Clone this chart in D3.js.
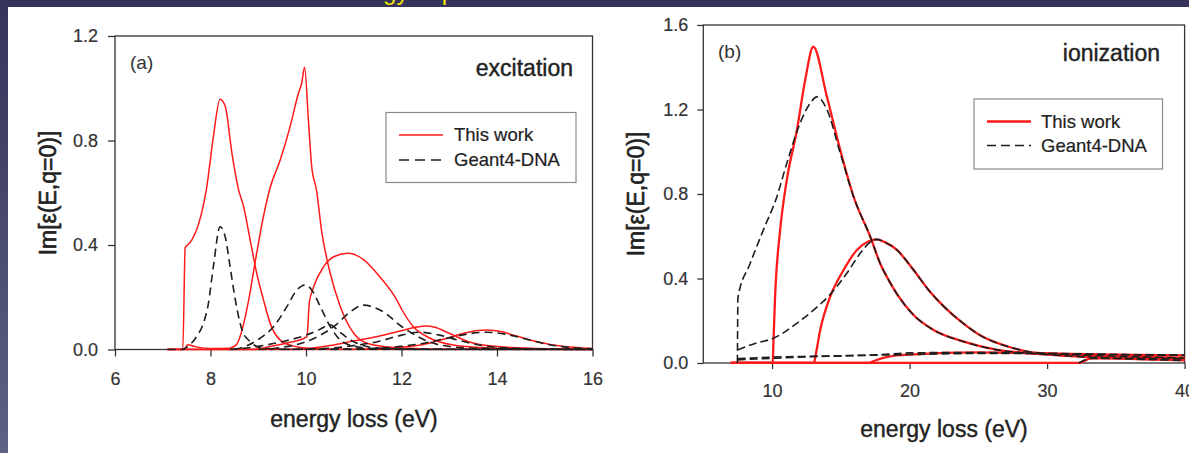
<!DOCTYPE html>
<html><head><meta charset="utf-8">
<script src="https://cdn.jsdelivr.net/npm/d3@7"></script>
<style>
html,body{margin:0;padding:0;background:#fff;overflow:hidden}
svg{display:block;font-family:"Liberation Sans",Arial,Helvetica,sans-serif}
</style></head><body>
<svg id="chart" width="1189" height="453"></svg>
<script>
// ---------- Panel (a): excitation ----------
const excXTicks = [6, 8, 10, 12, 14, 16];
const excYTicks = [0, 0.4, 0.8, 1.2];
// This work (red solid) — [energy (eV), Im eps]
const excThisWork1 = [[7.1,0],[7.42,0],[7.47,0.39],[7.52,0.40],[7.61,0.42],[7.75,0.48],[7.92,0.62],[8.06,0.815],[8.2,0.958],[8.31,0.93],[8.45,0.75],[8.59,0.61],[8.69,0.55],[8.83,0.42],[8.97,0.29],[9.11,0.19],[9.25,0.10],[9.46,0.036],[9.74,0.013],[10.02,0.005],[10.5,0.001],[16,0]];
const excThisWork2 = [[7.1,0],[7.45,0],[7.52,0.018],[7.7,0.01],[8.0,0.004],[8.4,0.005],[8.55,0.02],[8.62,0.05],[8.8,0.19],[8.94,0.34],[9.11,0.51],[9.25,0.62],[9.46,0.725],[9.67,0.855],[9.84,0.98],[9.91,1.02],[9.97,1.08],[10.05,0.88],[10.12,0.70],[10.22,0.61],[10.33,0.45],[10.51,0.29],[10.72,0.164],[11.0,0.062],[11.28,0.024],[11.83,0.008],[13,0.001],[16,0]];
const excThisWork3 = [[7.1,0],[8.9,0],[9.2,0.01],[9.6,0.025],[9.98,0.045],[10.02,0.05],[10.07,0.18],[10.16,0.24],[10.37,0.317],[10.58,0.355],[10.89,0.368],[11.21,0.343],[11.56,0.275],[11.9,0.19],[12.0,0.155],[12.25,0.087],[12.6,0.043],[13.09,0.017],[13.65,0.008],[15,0.001],[16,0]];
const excThisWork4 = [[7.1,0],[9.8,0],[10.1,0.005],[10.5,0.015],[11,0.033],[11.5,0.05],[12,0.072],[12.3,0.085],[12.5,0.09],[12.7,0.085],[13,0.062],[13.4,0.03],[13.9,0.013],[14.7,0.005],[16,0.001]];
const excThisWork5 = [[7.1,0],[11.0,0],[11.6,0.005],[12.2,0.012],[12.6,0.025],[12.95,0.043],[13.3,0.062],[13.6,0.073],[13.8,0.075],[14.1,0.068],[14.35,0.055],[14.84,0.03],[15.33,0.013],[16,0.004]];
// Geant4-DNA (black dashed)
const excGeant1 = [[7.1,0],[7.4,0],[7.55,0.015],[7.71,0.05],[7.85,0.1],[7.95,0.17],[8.06,0.317],[8.2,0.47],[8.31,0.43],[8.41,0.317],[8.52,0.19],[8.66,0.075],[8.83,0.03],[9.04,0.008],[9.5,0.001],[16,0]];
const excGeant2 = [[8.5,0],[8.62,0.005],[9.04,0.043],[9.32,0.087],[9.6,0.164],[9.81,0.228],[9.98,0.247],[10.12,0.228],[10.3,0.164],[10.51,0.087],[10.72,0.036],[11.0,0.013],[11.5,0.002],[16,0]];
const excGeant3 = [[8.4,0],[9.0,0.012],[9.5,0.03],[10.0,0.055],[10.3,0.078],[10.5,0.095],[10.7,0.068],[10.9,0.04],[11.2,0.015],[11.6,0.004],[12.5,0],[16,0]];
const excGeant4 = [[9.0,0],[9.5,0.008],[10.0,0.03],[10.3,0.055],[10.6,0.09],[10.9,0.14],[11.2,0.17],[11.61,0.145],[12.01,0.087],[12.41,0.043],[12.81,0.017],[13.5,0.005],[16,0]];
const excGeant5 = [[9.5,0],[10.5,0.005],[11,0.015],[11.5,0.03],[12,0.055],[12.4,0.066],[12.8,0.055],[13.2,0.035],[13.6,0.018],[14,0.008],[14.8,0.002],[16,0]];
const excGeant6 = [[10.5,0],[11.5,0.005],[12,0.012],[12.5,0.025],[13,0.045],[13.4,0.06],[13.8,0.066],[14.2,0.058],[14.6,0.04],[15,0.022],[15.4,0.01],[16,0.003]];

// ---------- Panel (b): ionization ----------
const ionXTicks = [10, 20, 30, 40];
const ionYTicks = [0, 0.4, 0.8, 1.2, 1.6];
const ionThisWork1 = [[7,0],[10.05,0],[10.1,0.1],[10.22,0.314],[10.59,0.63],[11.07,0.866],[11.8,1.10],[12.41,1.34],[13.0,1.497],[13.99,1.26],[14.96,1.008],[15.93,0.787],[17.14,0.598],[17.87,0.47],[18.5,0.39],[19.1,0.325],[20.29,0.227],[21.75,0.156],[23.94,0.101],[26.37,0.062],[28.8,0.046],[32.4,0.03],[40,0.012]];
const ionThisWork2 = [[7,0],[13.05,0],[13.15,0.03],[13.5,0.156],[14.23,0.314],[15.2,0.44],[16.17,0.535],[17.0,0.575],[17.6,0.585],[18.2,0.572],[19.08,0.535],[20.29,0.44],[21.38,0.346],[22.5,0.267],[23.9,0.188],[25.3,0.125],[27.2,0.077],[29.1,0.049],[32.4,0.038],[40,0.024]];
const ionThisWork3 = [[7,0],[17.0,0],[17.5,0.012],[18.5,0.03],[20,0.04],[25,0.05],[30,0.045],[35,0.04],[40,0.036]];
const ionThisWork4 = [[7,0],[32.3,0],[33.2,0.022],[36,0.022],[40,0.02]];
const ionGeant1 = [[7.48,0],[7.52,0.31],[8.4,0.47],[9.37,0.63],[10.35,0.787],[11.07,0.945],[12.04,1.135],[12.77,1.23],[13.26,1.26],[13.99,1.2],[14.96,0.993],[15.93,0.787],[17.14,0.598],[17.87,0.47],[18.5,0.39],[19.1,0.325],[20.29,0.227],[21.75,0.156],[23.94,0.101],[26.37,0.062],[28.8,0.046],[32.4,0.03],[40,0.012]];
const ionGeant2 = [[7.5,0.062],[8.89,0.095],[10.1,0.117],[11.8,0.188],[13.01,0.25],[14.23,0.325],[15.44,0.425],[16.41,0.519],[17.1,0.57],[17.6,0.585],[18.2,0.572],[19.08,0.535],[20.29,0.44],[21.38,0.346],[22.5,0.267],[23.9,0.188],[25.3,0.125],[27.2,0.077],[29.1,0.049],[32.4,0.038],[40,0.024]];
const ionGeant3 = [[7.5,0.015],[10,0.022],[13,0.03],[16,0.035],[20,0.04],[25,0.045],[30,0.045],[35,0.04],[40,0.038]];
const ionGeant4 = [[7.5,0.02],[10,0.028],[13,0.032],[18,0.04],[20,0.048],[25,0.05],[30,0.045],[35,0.04],[40,0.036]];
const ionGeant5 = [[32.3,0],[33.2,0.022],[36,0.022],[40,0.02]];

const legendLabels = ["This work", "Geant4-DNA"];

// ---------- drawing ----------
const svg = d3.select("#chart");
const defs = svg.append("defs");
const lg = defs.append("linearGradient").attr("id","leftStrip").attr("x1",0).attr("y1",0).attr("x2",0).attr("y2",1);
lg.append("stop").attr("offset","0%").attr("stop-color","#35335a");
lg.append("stop").attr("offset","100%").attr("stop-color","#5d6283");

svg.append("rect").attr("width",1189).attr("height",453).attr("fill","#ffffff");
svg.append("rect").attr("x",0).attr("y",0).attr("width",1189).attr("height",7).attr("fill","#35335a");
svg.append("rect").attr("x",0).attr("y",0).attr("width",8).attr("height",453).attr("fill","url(#leftStrip)");
svg.append("text").attr("x",335).attr("y",0).attr("font-size",24).attr("fill","#f2e200").text("energy of photons");

function heavy(sel, w){ return sel.attr("stroke", sel.attr("fill")).attr("stroke-width", w); }

function panel(o){
  const x = d3.scaleLinear().domain(o.xDomain).range([o.left, o.right]);
  const y = d3.scaleLinear().domain(o.yDomain).range([o.bottom, o.top]);
  const g = svg.append("g");
  const clipId = "clip" + o.id;
  defs.append("clipPath").attr("id", clipId).append("rect")
    .attr("x", o.left).attr("y", o.top - 2).attr("width", o.right - o.left + 1).attr("height", o.bottom - o.top + 3);

  // axes (ticks + labels)
  const xa = g.append("g").attr("transform", `translate(0,${o.bottom})`)
    .call(d3.axisBottom(x).tickValues(o.xTicks).tickFormat(d3.format("d")).tickSize(o.tickLen).tickPadding(o.xPad).tickSizeOuter(0));
  const ya = g.append("g").attr("transform", `translate(${o.left},0)`)
    .call(d3.axisLeft(y).tickValues(o.yTicks).tickFormat(d3.format(".1f")).tickSize(o.tickLen).tickPadding(o.yPad).tickSizeOuter(0));
  [xa, ya].forEach(a => {
    a.select(".domain").remove();
    a.selectAll(".tick line").attr("stroke", "#333").attr("stroke-width", 1.3);
    a.selectAll(".tick text").attr("fill", "#333").attr("font-size", o.tickFont)
      .attr("font-family", "Liberation Sans, Arial, sans-serif").attr("stroke", "#333").attr("stroke-width", 0.2);
  });

  // frame
  g.append("rect").attr("x", o.left).attr("y", o.top).attr("width", o.right - o.left).attr("height", o.bottom - o.top)
    .attr("fill", "none").attr("stroke", "#333").attr("stroke-width", 1.3);

  const line = d3.line().x(d => x(d[0])).y(d => y(d[1])).curve(d3.curveMonotoneX);
  const cg = g.append("g").attr("clip-path", `url(#${clipId})`);
  o.red.forEach(s => cg.append("path").attr("d", line(s)).attr("fill", "none")
    .attr("stroke", "#ff1a1a").attr("stroke-width", o.redW).attr("stroke-linejoin", "round"));
  o.black.forEach(s => cg.append("path").attr("d", line(s)).attr("fill", "none")
    .attr("stroke", "#1e1e1e").attr("stroke-width", o.blackW).attr("stroke-dasharray", o.dash));

  // legend
  const L = o.legend;
  g.append("rect").attr("x", L.x).attr("y", L.y).attr("width", L.w).attr("height", L.h)
    .attr("fill", "#fff").attr("stroke", "#8a8a8a").attr("stroke-width", 1.2);
  [0, 1].forEach(i => {
    const yy = L.y + L.row0 + i * L.rowGap;
    g.append("line").attr("x1", L.x + L.lx0).attr("x2", L.x + L.lx1).attr("y1", yy).attr("y2", yy)
      .attr("stroke", i === 0 ? "#ff1a1a" : "#1e1e1e").attr("stroke-width", i === 0 ? o.redW : o.blackW)
      .attr("stroke-dasharray", i === 0 ? null : o.legendDash);
    heavy(g.append("text").attr("x", L.x + L.tx).attr("y", yy).attr("dy", "0.35em")
      .attr("font-size", L.font).attr("fill", "#222").text(legendLabels[i]), 0.2);
  });

  // annotations
  g.append("text").attr("x", o.tag.x).attr("y", o.tag.y).attr("font-size", 19).attr("fill", "#333").text(o.tag.t);
  heavy(g.append("text").attr("x", o.name.x).attr("y", o.name.y).attr("text-anchor", "end").attr("font-size", 23).attr("fill", "#222").text(o.name.t), 0.4);
  heavy(g.append("text").attr("x", o.xTitle.x).attr("y", o.xTitle.y).attr("text-anchor", "middle").attr("font-size", 23).attr("fill", "#222").text("energy loss (eV)"), 0.4);
  heavy(g.append("text").attr("transform", `translate(${o.yTitle.x},${o.yTitle.y}) rotate(-90)`).attr("text-anchor", "middle")
    .attr("dy", "0.35em").attr("font-size", 23).attr("fill", "#222").text("Im[ε(E,q=0)]"), 0.6);
}

panel({
  id: "a", xDomain: [6, 16], yDomain: [0, 1.2], left: 115, right: 592.5, top: 36, bottom: 349.5,
  xTicks: excXTicks, yTicks: excYTicks, tickLen: 7, xPad: 16, yPad: 10, tickFont: 18,
  red: [excThisWork1, excThisWork2, excThisWork3, excThisWork4, excThisWork5],
  black: [excGeant1, excGeant2, excGeant3, excGeant4, excGeant5, excGeant6],
  redW: 1.5, blackW: 1.6, dash: "8,5", legendDash: "10,6",
  legend: { x: 386, y: 112.5, w: 190, h: 70, row0: 22.5, rowGap: 25, lx0: 13, lx1: 57, tx: 68, font: 18.5 },
  tag: { x: 130, y: 69, t: "(a)" }, name: { x: 573, y: 76, t: "excitation" },
  xTitle: { x: 354, y: 427 }, yTitle: { x: 48, y: 193 }
});

panel({
  id: "b", xDomain: [5, 40], yDomain: [0, 1.6], left: 703.3, right: 1184.6, top: 25, bottom: 363,
  xTicks: ionXTicks, yTicks: ionYTicks, tickLen: 6, xPad: 15, yPad: 9, tickFont: 18,
  red: [ionThisWork1, ionThisWork2, ionThisWork3, ionThisWork4],
  black: [ionGeant1, ionGeant2, ionGeant3, ionGeant4, ionGeant5],
  redW: 2.3, blackW: 1.6, dash: "8,4", legendDash: "9,5",
  legend: { x: 974, y: 99, w: 188.5, h: 70, row0: 22.5, rowGap: 24, lx0: 13, lx1: 57, tx: 67, font: 18.5 },
  tag: { x: 718, y: 58, t: "(b)" }, name: { x: 1160, y: 61, t: "ionization" },
  xTitle: { x: 944, y: 437 }, yTitle: { x: 636, y: 194 }
});
</script>
</body></html>
